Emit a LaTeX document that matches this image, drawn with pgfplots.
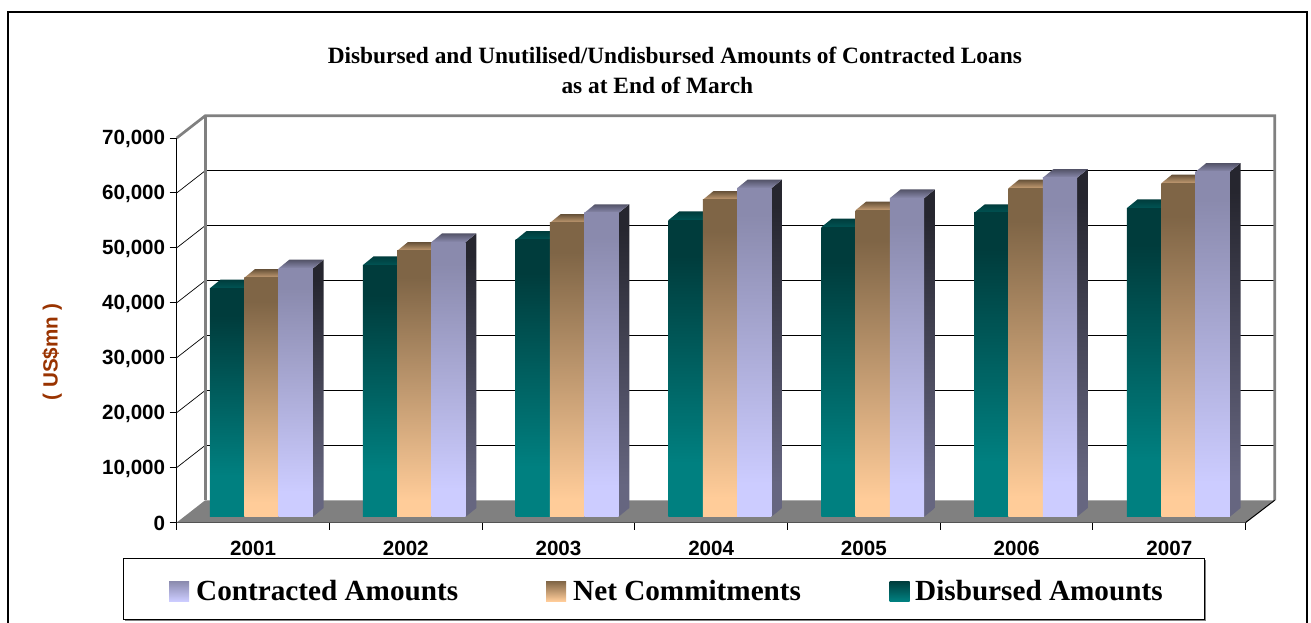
\documentclass[border=0pt]{standalone}
\usepackage{fontspec}
\setmainfont{Liberation Serif}
\newfontfamily\arialfont{Liberation Sans}
\usepackage{pgfplots}
\usepackage{pgfplotstable}
\pgfplotsset{compat=1.18}

% End-of-March amounts in US$ million
\pgfplotstableread{
year D N C
2001 41600 43500 45200
2002 45800 48400 50000
2003 50400 53500 55300
2004 54000 57700 59800
2005 52700 55800 58000
2006 55300 59800 61700
2007 56200 60700 62800
}\loans

\definecolor{Ddark}{HTML}{003C3C}\definecolor{Dlight}{HTML}{008080}
\definecolor{Ndark}{HTML}{7F6546}\definecolor{Nlight}{HTML}{FFCC99}
\definecolor{Cdark}{HTML}{8A8AAD}\definecolor{Clight}{HTML}{CCCCFF}
\definecolor{Sdark}{HTML}{26262F}\definecolor{Slight}{HTML}{666680}
\definecolor{wall}{HTML}{808080}
\definecolor{axistitle}{HTML}{993300}

% Front faces: a short flat band at each end of the ramp
\pgfdeclareverticalshading{frontD}{100bp}{color(0bp)=(Dlight); color(34bp)=(Dlight); color(69bp)=(Ddark); color(100bp)=(Ddark)}
\pgfdeclareverticalshading{frontN}{100bp}{color(0bp)=(Nlight); color(28bp)=(Nlight); color(70bp)=(Ndark); color(100bp)=(Ndark)}
\pgfdeclareverticalshading{frontC}{100bp}{color(0bp)=(Clight); color(30bp)=(Clight); color(71bp)=(Cdark); color(100bp)=(Cdark)}
\pgfdeclareverticalshading{sideS}{100bp}{color(0bp)=(Slight); color(30bp)=(Slight); color(71bp)=(Sdark); color(100bp)=(Sdark)}

% One extruded bar: #1 category, #2 slot, #3 value, #4 front shading,
% #5 top-face back colour, #6 top-face front colour
\newcommand{\extrudedbar}[6]{%
  \pgfmathsetmacro\xa{#1*1.0008+0.218+0.2246*#2}%
  \pgfmathsetmacro\xb{\xa+0.2246}%
  \pgfmathsetmacro\xc{\xb+0.0701}%
  \pgfmathsetmacro\xd{\xa+0.0701}%
  \edef\ya{1056}\edef\yb{\the\numexpr #3+1056\relax}%
  \edef\yc{\the\numexpr #3+1056+1584\relax}\edef\yd{\the\numexpr 1056+1584\relax}%
  \addplot[forget plot,draw=none,shading=sideS] coordinates {(\xb,\ya) (\xc,\yd) (\xc,\yc) (\xb,\yb)} --cycle;
  \addplot[forget plot,draw=none,top color=#5,bottom color=#6] coordinates {(\xa,\yb) (\xb,\yb) (\xc,\yc) (\xd,\yc)} --cycle;
  \addplot[forget plot,draw=none,shading=#4] coordinates {(\xa,\ya) (\xb,\ya) (\xb,\yb) (\xa,\yb)} --cycle;
}

\begin{document}
\begin{tikzpicture}[x=1pt,y=1pt]
  \path[use as bounding box] (0,0) rectangle (1311,622);
  % outer chart frame, cut off by the lower page edge
  \draw[black,line width=1.5pt] (8,-5) -- (8,610) -- (1307,610) -- (1307,-5);

  \begin{axis}[
    at={(176.7pt,99.5pt)},anchor=south west,
    scale only axis,width=1069pt,height=384.5pt,
    xmin=0,xmax=7,ymin=0,ymax=70000,clip=false,
    axis x line=bottom,axis y line=left,
    axis line style={-,black,line width=1.3pt},
    tick align=outside,tick style={black,line width=1pt},
    major tick length=7pt,
    xtick={0,...,7},
    xticklabels={2001,2002,2003,2004,2005,2006,2007},
    x tick label as interval,
    ytick={0,10000,...,70000},
    scaled y ticks=false,
    /pgf/number format/assume math mode=true,
    /pgf/number format/1000 sep={,},
    tick label style={font=\arialfont\bfseries\fontsize{20.6}{24}\selectfont,black},
    x tick label style={yshift=-8pt},
    y tick label style={xshift=-1pt,yshift=-1pt},
    title={Disbursed and Unutilised/Undisbursed Amounts of Contracted Loans\\as at End of March\hspace*{35pt}},
    title style={at={(axis description cs:0.466,1.1614)},anchor=center,align=center,
      font=\bfseries\fontsize{23.35}{30}\selectfont},
    ylabel={( US\$mn )},
    every axis y label/.style={at={(axis description cs:-0.1166,0.443)},rotate=90,anchor=center,
      font=\arialfont\bfseries\fontsize{20.6}{24}\selectfont,color=axistitle},
  ]
    % floor of the box
    \addplot[forget plot,draw=none,fill=wall] coordinates {(0,0) (0.187,4050) (7.19,4050) (7,0)} --cycle;
    % gridlines on the back wall and their returns to the value axis
    \pgfplotsinvokeforeach{10000,20000,30000,40000,50000,60000}{
      \draw[black,line width=1pt] (axis cs:0.187,#1+4050) -- (axis cs:7.19,#1+4050);
      \draw[black,line width=0.7pt] (axis cs:0,#1) -- (axis cs:0.187,#1+4050);
    }
    % back wall outline
    \draw[wall,line width=2.7pt,line join=miter] (axis cs:0,70000) -- (axis cs:0.187,74050) -- (axis cs:7.19,74050) -- (axis cs:7.19,4050);
    \draw[wall,line width=2.7pt] (axis cs:0.187,74050) -- (axis cs:0.187,4050);
    \draw[black,line width=1pt] (axis cs:7,0) -- (axis cs:7.19,4050);

    \pgfplotsforeachungrouped \i in {0,...,6}{
      \pgfplotstablegetelem{\i}{D}\of\loans \let\valD\pgfplotsretval
      \pgfplotstablegetelem{\i}{N}\of\loans \let\valN\pgfplotsretval
      \pgfplotstablegetelem{\i}{C}\of\loans \let\valC\pgfplotsretval
      \extrudedbar{\i}{0}{\valD}{frontD}{Ddark}{Ddark!65!Dlight}
      \extrudedbar{\i}{1}{\valN}{frontN}{Ndark!80!black}{Ndark!45!Nlight}
      \extrudedbar{\i}{2}{\valC}{frontC}{Cdark!60!black}{Cdark}
    }
  \end{axis}

  % legend panel
  \draw[wall,line width=1.4pt] (124.5,2) -- (1205,2) -- (1205,62.5);
  \draw[black,line width=1pt,fill=white] (123.5,3) rectangle (1204,63.5);
  \shade[top color=Cdark,bottom color=Clight] (169,21) rectangle (189,41);
  \shade[top color=Ndark,bottom color=Nlight] (546,21) rectangle (566,41);
  \shade[top color=Ddark,bottom color=Dlight] (889.5,21) rectangle (909.5,41);
  \begin{scope}[every node/.style={anchor=west,inner sep=0pt,font=\bfseries\fontsize{29.2}{32}\selectfont}]
    \node at (196,31.5) {Contracted Amounts};
    \node at (573,31.5) {Net Commitments};
    \node at (915,31.5) {Disbursed Amounts};
  \end{scope}
\end{tikzpicture}
\end{document}
